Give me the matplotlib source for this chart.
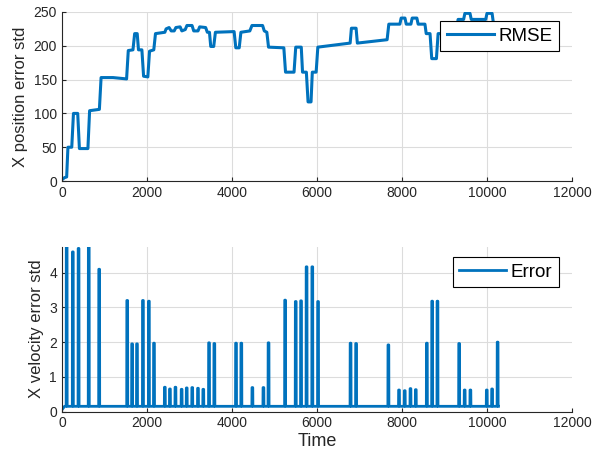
import matplotlib
matplotlib.use("Agg")
import matplotlib.pyplot as plt
import numpy as np

# ---- data: top panel (RMSE of X position error std), vertex points
pos_time = [0, 60, 110, 140, 230, 270, 370, 410, 610, 650, 880, 920, 1200, 1520, 1560,
            1670, 1710, 1770, 1800, 1880, 1920, 2020, 2060, 2160, 2200, 2420, 2450, 2520,
            2570, 2640, 2680, 2780, 2820, 2900, 2940, 3060, 3100, 3200, 3240, 3380, 3420,
            3470, 3500, 3570, 3610, 4050, 4090, 4170, 4210, 4420, 4470, 4720, 4760, 4820,
            4860, 5220, 5260, 5460, 5500, 5630, 5660, 5750, 5790, 5860, 5890, 5980, 6020,
            6780, 6810, 6920, 6950, 7650, 7690, 7950, 7980, 8070, 8100, 8210, 8240, 8350,
            8380, 8540, 8570, 8660, 8700, 8810, 8850, 9000, 9280, 9320, 9450, 9480, 9600,
            9630, 9970, 10000, 10120, 10150, 10250]
pos_value = [2, 5, 6, 50, 50, 100, 100, 48, 48, 104, 106, 153, 153, 151, 193,
             194, 218, 218, 194, 194, 155, 154, 192, 194, 218, 220, 225, 227,
             222, 222, 227, 228, 222, 224, 230, 230, 222, 222, 228, 227, 220,
             220, 199, 199, 220, 221, 197, 197, 220, 222, 230, 230, 222, 220,
             198, 197, 161, 161, 198, 198, 161, 161, 117, 117, 161, 161, 198,
             204, 226, 226, 204, 209, 232, 232, 241, 241, 232, 232, 241, 241,
             232, 232, 218, 218, 181, 181, 218, 218, 220, 239, 239, 248, 248,
             239, 239, 248, 248, 234, 232]

# ---- data: bottom panel (X velocity error std), spikes over a baseline
vel_baseline = 0.15
spike_time = [110, 255, 390, 630, 875, 1535, 1650, 1765, 1905, 2045, 2165, 2420, 2540,
              2670, 2815, 2935, 3065, 3200, 3325, 3460, 3585, 4095, 4220, 4480, 4740,
              4860, 5250, 5500, 5625, 5755, 5890, 6025, 6790, 6920, 7680, 7930, 8065,
              8200, 8325, 8585, 8710, 8835, 9345, 9475, 9610, 9995, 10120, 10250]
spike_value = [4.75, 4.6, 4.7, 4.75, 4.1, 3.2, 1.95, 1.95, 3.2, 3.18, 1.97, 0.7, 0.65,
               0.7, 0.64, 0.68, 0.69, 0.67, 0.64, 1.98, 1.96, 1.97, 1.97, 0.69, 0.69,
               1.98, 3.21, 3.17, 3.19, 4.17, 4.17, 3.17, 1.97, 1.96, 1.92, 0.62, 0.6,
               0.66, 0.63, 1.97, 3.18, 3.18, 1.96, 0.62, 0.62, 0.62, 0.65, 2.0]
vel_end_time = 10270

xticks = [0, 2000, 4000, 6000, 8000, 10000, 12000]
pos_yticks = [0, 50, 100, 150, 200, 250]
vel_yticks = [0, 1, 2, 3, 4]

# build the spike polyline from the spike lists
half = 12
vt = [0, 60]
vv = [0.05, vel_baseline]
for c, h in zip(spike_time, spike_value):
    vt += [c - half, c - half + 3, c + half - 3, c + half]
    vv += [vel_baseline, h, h, vel_baseline]
vt.append(vel_end_time)
vv.append(vel_baseline)

plt.rcParams['font.family'] = ['Liberation Sans', 'DejaVu Sans']
blue = '#0072BD'
dark = '#262626'

fig = plt.figure(figsize=(5.92, 4.68), dpi=100)
ax1 = fig.add_axes([0.1047, 0.6132, 0.8615, 0.3612])
ax2 = fig.add_axes([0.1047, 0.1207, 0.8615, 0.3522])

def style(ax, yticks, ylim, ylabel):
    ax.set_xlim(0, 12000)
    ax.set_ylim(*ylim)
    ax.set_xticks(xticks)
    ax.set_yticks(yticks)
    ax.grid(True, color='#dcdcdc', linewidth=0.8)
    ax.set_axisbelow(True)
    for s in ['top', 'right']:
        ax.spines[s].set_visible(False)
    for s in ['left', 'bottom']:
        ax.spines[s].set_color(dark)
        ax.spines[s].set_linewidth(0.8)
    ax.tick_params(direction='in', length=3, colors=dark, labelsize=10, width=0.8)
    ax.set_ylabel(ylabel, fontsize=12, color=dark, labelpad=4)
    gl = ax.xaxis.get_gridlines()
    gl[-1].set_visible(False)

leg_kw = dict(loc='upper right', borderaxespad=0, fontsize=13.5, fancybox=False,
              edgecolor='black', framealpha=1, handlelength=2.5,
              handletextpad=0.25, borderpad=0.35)

ax1.plot(pos_time, pos_value, color=blue, linewidth=2.2, label='RMSE')
style(ax1, pos_yticks, (0, 250), 'X position error std')
ax1.legend(bbox_to_anchor=(0.9745, 0.947), **leg_kw)

ax2.plot(vt, vv, color=blue, linewidth=2.0, label='Error')
style(ax2, vel_yticks, (0, 4.75), 'X velocity error std')
ax2.set_xlabel('Time', fontsize=13, color=dark, labelpad=2)
ax2.legend(bbox_to_anchor=(0.9745, 0.9375), **leg_kw)

for ax in (ax1, ax2):
    ax.get_legend().get_frame().set_linewidth(0.8)

fig.savefig('out.png', dpi=100)
